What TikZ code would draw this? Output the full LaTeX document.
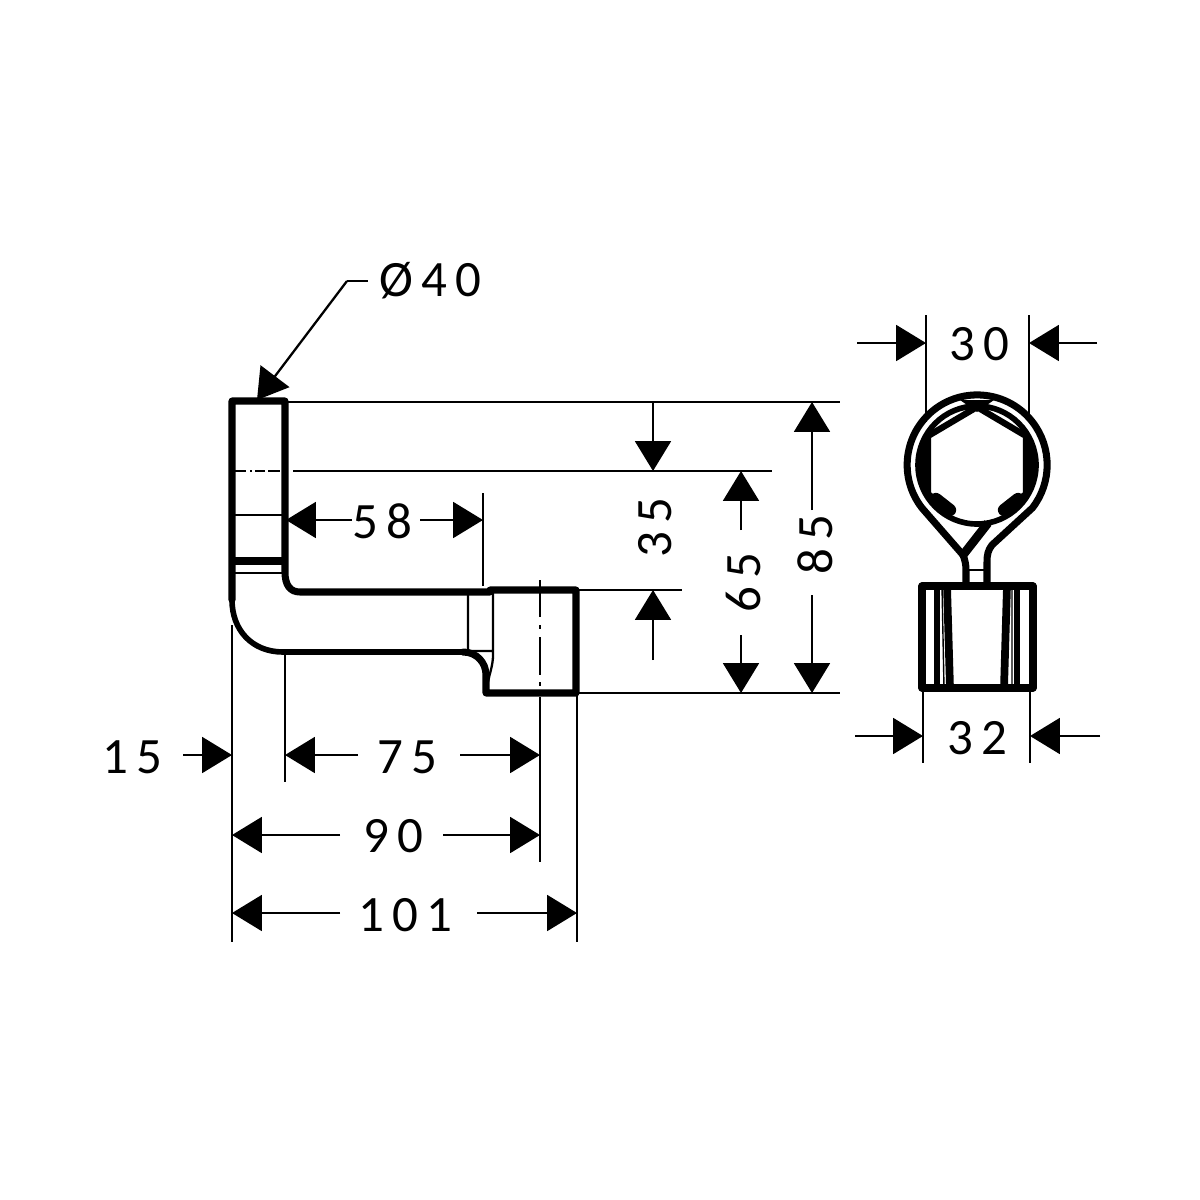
\documentclass[tikz,border=0pt]{standalone}
\usepackage{fontspec}
\setmainfont[LetterSpace=16]{Carlito}
\usetikzlibrary{arrows.meta}
\tikzset{
  thin line/.style={line width=1.3pt},
  thick line/.style={line width=4pt,line join=round,line cap=round},
  mid line/.style={line width=3.2pt,line join=round,line cap=round},
  dim/.style={line width=1.3pt,-{Triangle[length=17pt,width=20.4pt]}},
  lab/.style={inner sep=0pt,font=\fontsize{29}{29}\selectfont,text=black},
  rlab/.style={lab,rotate=90}
}
\begin{document}
\begin{tikzpicture}[x=0.02cm,y=-0.02cm]
\useasboundingbox (0,0) rectangle (1200,1200);
% side view outline
\draw[thick line] (232,600)--(232,401)--(285,401)--(285,572) .. controls (285,585) and (290,592) .. (300,592) -- (490,592) -- (490,590) -- (576,590) -- (576,693) -- (486,693) -- (486,675) .. controls (486,663) and (477,652) .. (463,652);
\draw[mid line] (463,652) -- (283,652) .. controls (252,652) and (232,630) .. (232,600);
\draw[thick line,line cap=butt] (232,561)--(285,561);
\draw[thin line] (235,573)--(282,573) (235,515)--(282,515);
\draw[thin line] (468,592)--(468,651)--(493,651) (493,592)--(493,655) .. controls (493,665) and (490,672) .. (488,682);
% centre lines
\draw[thin line] (235,471)--(246,471) (250,471)--(252,471) (255,471)--(265,471) (268,471)--(280,471);
\draw[thin line] (540,580)--(540,617) (540,625)--(540,629) (540,637)--(540,675) (540,682)--(540,686) (540,697)--(540,862);
% extension lines
\draw[thin line] (285,402)--(840,402) (293,471)--(772,471) (577,590)--(682,590) (577,693)--(840,693);
\draw[thin line] (483,493)--(483,586) (232,625)--(232,942) (285,652)--(285,782) (577,693)--(577,942);
\draw[thin line] (926,315)--(926,422) (1029,315)--(1029,422) (923,690)--(923,763) (1030,690)--(1030,763);
% dimension arrows
\draw[dim] (347,281)--(257,400);
\draw[thin line] (347,281)--(368,281);
\node[lab] (d40) at (430,281) {Ø40};
\draw[dim] (352,520)--(286,520); \draw[dim] (420,520)--(483,520);
\node[lab] (d58) at (382,521) {58};
\draw[dim] (653,402)--(653,471); \draw[dim] (653,660)--(653,590);
\node[rlab] (d35) at (655,528) {35};
\draw[dim] (741,530)--(741,471); \draw[dim] (741,635)--(741,693);
\node[rlab] (d65) at (743,583) {65};
\draw[dim] (812,510)--(812,402); \draw[dim] (812,595)--(812,693);
\node[rlab] (d85) at (815,545) {85};
\node[lab] (d15) at (132,757) {15};
\draw[dim] (183,755)--(232,755);
\draw[dim] (358,755)--(285,755); \draw[dim] (460,755)--(540,755);
\node[lab] (d75) at (407,757) {75};
\draw[dim] (340,835)--(232,835); \draw[dim] (443,835)--(540,835);
\node[lab] (d90) at (393,836) {90};
\draw[dim] (340,913)--(232,913); \draw[dim] (477,913)--(577,913);
\node[lab] (d101) at (405,915) {101};
\draw[dim] (857,343)--(926,343); \draw[dim] (1097,343)--(1029,343);
\node[lab] (d30) at (979,344) {30};
\draw[dim] (855,736)--(923,736); \draw[dim] (1100,736)--(1030,736);
\node[lab] (d32) at (977,738) {32};
% end view: ring
\draw[thick line] (963,555) -- (922,508) arc[start angle=142,delta angle=256,radius=70] -- (992,545) .. controls (988,550) and (987,555) .. (987,562) -- (987,584);
\draw[thick line] (963,555) .. controls (965,560) and (966,565) .. (966,570) -- (966,584);
\draw[line width=5pt] (963,555)--(988,523);
\draw[thin line] (968,570)--(985,570);
% hexagon and inner circle
\draw[line width=3.2pt] (977,465) circle[radius=59];
\draw[line width=3.6pt,line join=round] (952,513)--(928,494)--(928,436)--(977,407)--(1026,436)--(1026,494)--(1002,513);
\draw[line width=5pt] (925,490)--(925,440);
\draw[line width=5pt] (1029,490)--(1029,440);
\draw[line width=7pt,line cap=round] (936,499)--(950,510);
\draw[line width=7pt,line cap=round] (1018,499)--(1004,510);
\fill (960,400)--(994,400)--(977,412)--cycle;
% end view: nut
\draw[thick line] (922,586) rectangle (1033,688);
\draw[line width=3.2pt] (937,586)--(937,688) (1017,586)--(1017,688);
\draw[line width=4.4pt] (947,586)--(950,688) (1007,586)--(1004,688);
\draw[line width=0.8pt] (942,586)--(944,688) (1012,586)--(1012,688);
\end{tikzpicture}
\end{document}
